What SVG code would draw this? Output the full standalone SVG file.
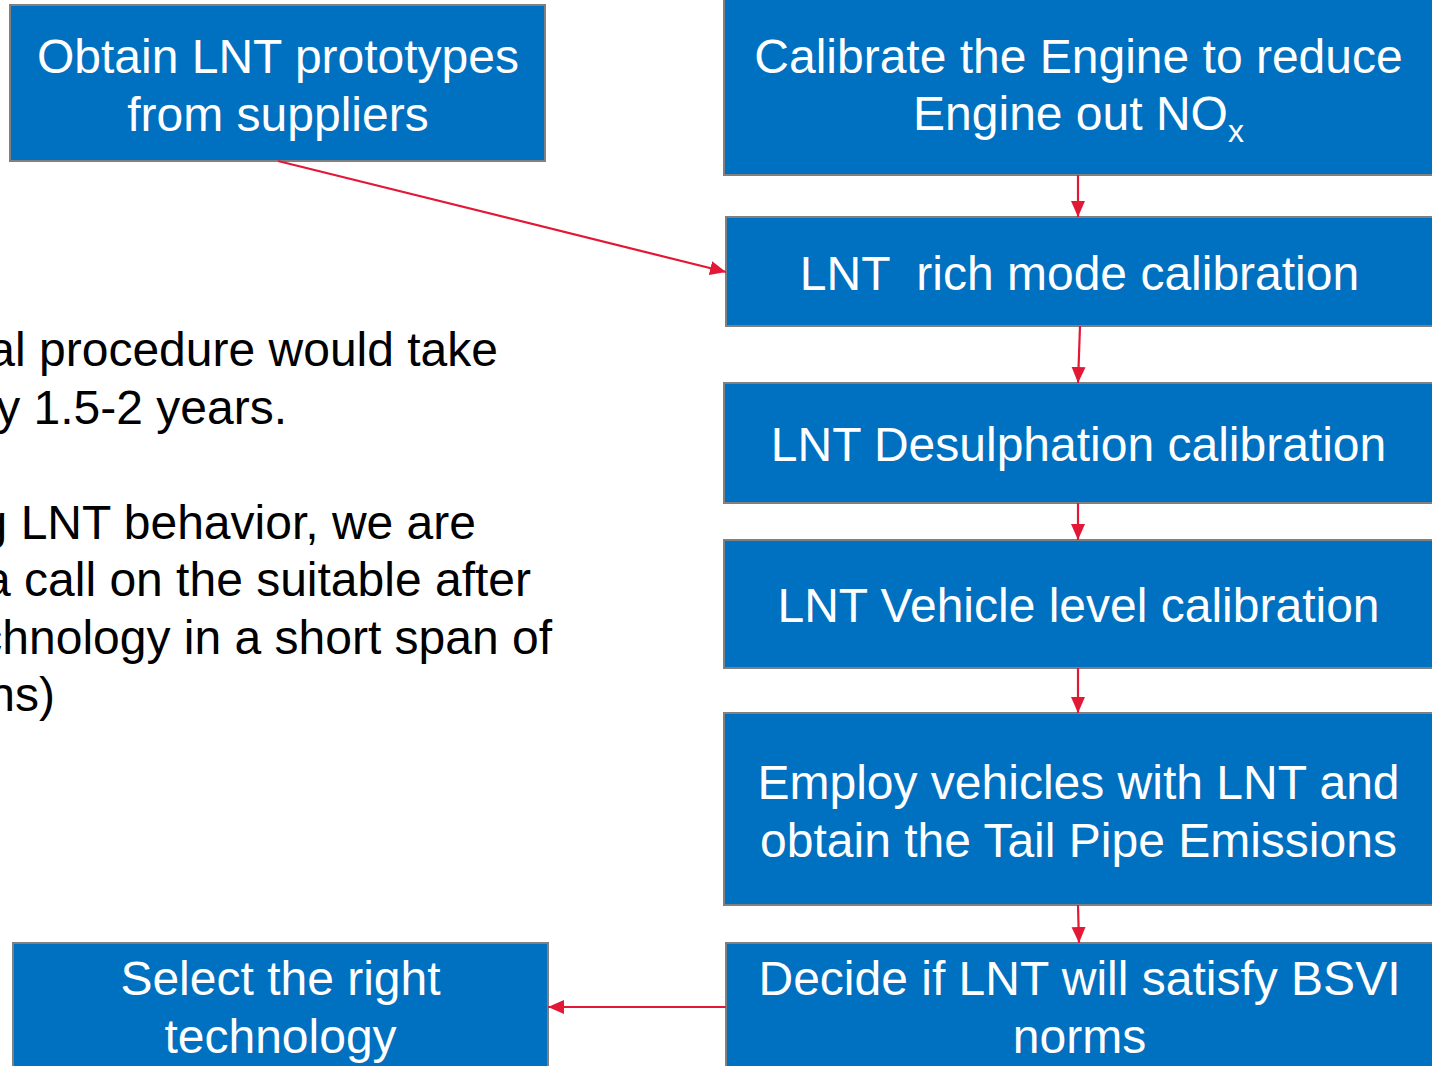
<svg xmlns="http://www.w3.org/2000/svg" width="1432" height="1066" viewBox="0 0 1432 1066">
<style>
.box{fill:#0070C0;stroke:#808080;stroke-width:2}
.bt{font-family:"Liberation Sans",Arial,sans-serif;font-size:48px;fill:#ffffff;text-anchor:middle}
.lt{font-family:"Liberation Sans",Arial,sans-serif;font-size:48px;fill:#000000;text-anchor:end}
.conn{stroke:#E31837;stroke-width:2.2;fill:none;marker-end:url(#ah)}
</style>
<defs>
<marker id="ah" markerUnits="userSpaceOnUse" markerWidth="16" markerHeight="16" viewBox="0 0 16 16" refX="16" refY="8" orient="auto">
<path d="M0,1 L16,8 L0,15 Z" fill="#E31837"/>
</marker>
</defs>
<rect width="1432" height="1066" fill="#ffffff"/>
<g id="left-text">
<text class="lt" x="498" y="366">al procedure would take</text>
<text class="lt" x="287" y="424">y 1.5-2 years.</text>
<text class="lt" x="476" y="539">g LNT behavior, we are</text>
<text class="lt" x="531" y="596">a call on the suitable after</text>
<text class="lt" x="552" y="654">chnology in a short span of</text>
<text class="lt" x="55" y="711">ns)</text>
</g>
<g id="node-obtain">
<rect class="box" x="10" y="5" width="535" height="156"/>
<text class="bt" x="278" y="73">Obtain LNT prototypes</text>
<text class="bt" x="278" y="131">from suppliers</text>
</g>
<g id="node-calibrate-engine">
<rect class="box" x="724" y="-5" width="709" height="180"/>
<text class="bt" x="1078.5" y="73">Calibrate the Engine to reduce</text>
<text class="bt" x="1078.5" y="130">Engine out NO<tspan font-size="32" dy="12">x</tspan></text>
</g>
<g id="node-rich-mode">
<rect class="box" x="726" y="217" width="709" height="109"/>
<text class="bt" x="1079.5" y="290" xml:space="preserve">LNT  rich mode calibration</text>
</g>
<g id="node-desulphation">
<rect class="box" x="724" y="383" width="709" height="120"/>
<text class="bt" x="1078.5" y="461">LNT Desulphation calibration</text>
</g>
<g id="node-vehicle-level">
<rect class="box" x="724" y="540" width="709" height="128"/>
<text class="bt" x="1078.5" y="622">LNT Vehicle level calibration</text>
</g>
<g id="node-employ">
<rect class="box" x="724" y="713" width="709" height="192"/>
<text class="bt" x="1078.5" y="799">Employ vehicles with LNT and</text>
<text class="bt" x="1078.5" y="857">obtain the Tail Pipe Emissions</text>
</g>
<g id="node-decide">
<rect class="box" x="726" y="943" width="709" height="135"/>
<text class="bt" x="1079.5" y="995">Decide if LNT will satisfy BSVI</text>
<text class="bt" x="1079.5" y="1053">norms</text>
</g>
<g id="node-select">
<rect class="box" x="13" y="943" width="535" height="135"/>
<text class="bt" x="280.5" y="995">Select the right</text>
<text class="bt" x="280.5" y="1053">technology</text>
</g>
<g id="connectors">
<line class="conn" x1="278" y1="161" x2="726" y2="272"/>
<line class="conn" x1="1078" y1="175" x2="1078" y2="217"/>
<line class="conn" x1="1080" y1="326" x2="1078" y2="383"/>
<line class="conn" x1="1078" y1="503" x2="1078" y2="540"/>
<line class="conn" x1="1078" y1="668" x2="1078" y2="713"/>
<line class="conn" x1="1078" y1="905" x2="1079" y2="943"/>
<line class="conn" x1="726" y1="1007" x2="548" y2="1007"/>
</g>
</svg>
